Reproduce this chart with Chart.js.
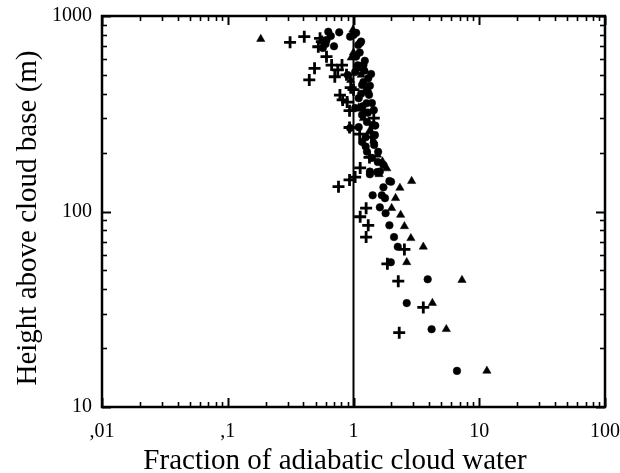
<!DOCTYPE html>
<html>
<head>
<meta charset="utf-8">
<script src="https://cdn.jsdelivr.net/npm/chart.js@4/dist/chart.umd.min.js"></script>
<style>
html,body{margin:0;padding:0;background:#fff;}
#wrap{width:620px;height:473px;position:relative;}
</style>
</head>
<body>
<div id="wrap"><canvas id="c" width="620" height="473"></canvas></div>
<script>
// ---- data ----
const circleX = [0.63,0.77,0.66,0.94,1.0,1.05,1.09,1.15,1.13,0.61,0.57,0.60,0.70,
  1.20,1.23,1.10,1.31,1.03,0.90,1.17,1.30,1.20,1.35,1.40,1.27,1.10,1.03,1.17,1.28,1.42,1.48,1.49,0.94,1.10,1.17,1.28,1.46,1.57,1.40,1.56,1.73,1.54,1.62,1.35,1.35,1.25,1.30,1.15,1.05,1.12,
  1.38,1.22,1.33,1.18,1.45,1.25,1.08,
  1.93,1.73,1.42,1.68,1.78,1.62,1.80,1.93,2.10,2.25,1.98,3.89,2.65,4.18,6.65,1.99];
const circleY = [831,825,790,784,800,820,711,740,728,754,686,720,700,
  561,590,545,480,517,499,444,409,460,440,359,358,380,338,312,287,277,246,275,267,270,227,202,219,202,188,179,173,159,160,160,155,240,320,400,620,650,
  505,525,395,345,330,215,560,
  143,133,121,121,117,105,98,85,74,66,55,45,34,25,15.3,142];

const triangleX = [0.183,0.99,0.96,1.0,1.05,0.95,1.15,1.25,1.10,1.20,1.35,1.45,1.55,1.70,1.84,1.60,
  2.90,2.34,2.16,2.01,2.37,2.54,2.86,3.59,2.65,7.29,4.24,5.47,11.5];
const triangleY = [762,850,612,650,520,470,500,420,340,300,260,230,195,180,166,155,
  143,132,117,104,96,84,73,66,55,44.6,34,25,15.3];

const plusX = [0.313,0.406,0.542,0.525,0.56,0.61,0.49,0.445,0.81,0.67,0.71,0.78,0.82,0.75,0.88,0.95,0.93,0.89,0.93,1.12,1.39,1.40,1.34,1.13,1.03,0.93,0.76,
  1.26,1.13,1.31,1.26,2.54,1.86,2.27,3.59,2.31,1.45,1.20,1.0];
const plusY = [733,784,769,696,740,619,540,471,561,561,489,394,372,530,500,430,328,363,269,249,240,252,189,167,150,145,134,
  104,94,85,74,64,54,44,32.3,24,300,330,420];

const refLineX = [1, 1];
const refLineY = [10, 1000];

const xTickValues = [0.01, 0.1, 1, 10, 100];
const xTickLabels = [',01', ',1', '1', '10', '100'];
const yTickValues = [10, 100, 1000];
const yTickLabels = ['10', '100', '1000'];

const xTitle = 'Fraction of adiabatic cloud water';
const yTitle = 'Height above cloud base (m)';

// ---- build ----
const pts = (xs, ys) => xs.map((v, i) => ({x: v, y: ys[i]}));
const labelFor = (vals, labs) => (v) => {
  for (let i = 0; i < vals.length; i++) {
    if (Math.abs(Math.log10(v) - Math.log10(vals[i])) < 1e-6) return labs[i];
  }
  return '';
};

const FONT = "'Liberation Serif', 'Times New Roman', serif";

const frameTicks = {
  id: 'frameTicks',
  afterDraw(chart) {
    const {ctx, chartArea: a, scales: {x, y}} = chart;
    ctx.save();
    ctx.strokeStyle = '#000';
    ctx.lineCap = 'butt';
    const seg = (x1, y1, x2, y2) => { ctx.beginPath(); ctx.moveTo(x1, y1); ctx.lineTo(x2, y2); ctx.stroke(); };
    const decades = (min, max) => {
      const out = [];
      for (let e = Math.round(Math.log10(min)); e <= Math.round(Math.log10(max)); e++) {
        for (let s = 1; s <= 9; s++) {
          const v = s * Math.pow(10, e);
          if (v >= min * 0.999 && v <= max * 1.001) out.push({v, major: s === 1});
        }
      }
      return out;
    };
    decades(x.min, x.max).forEach(t => {
      const px = Math.round(x.getPixelForValue(t.v)) + 0.5;
      ctx.lineWidth = t.major ? 2 : 1.6;
      const len = t.major ? 9 : 5;
      seg(px, a.bottom, px, a.bottom - len);
      seg(px, a.top, px, a.top + len);
    });
    decades(y.min, y.max).forEach(t => {
      const py = Math.round(y.getPixelForValue(t.v)) + 0.5;
      ctx.lineWidth = t.major ? 2 : 1.6;
      const len = t.major ? 9 : 5;
      seg(a.left, py, a.left + len, py);
      seg(a.right, py, a.right - len, py);
    });
    ctx.lineWidth = 2.5;
    ctx.strokeRect(a.left, a.top, a.right - a.left, a.bottom - a.top);

    // axis titles
    ctx.fillStyle = '#000';
    ctx.font = "29px " + FONT;
    ctx.textAlign = 'center';
    ctx.textBaseline = 'alphabetic';
    ctx.fillText(xTitle, 335, 469);
    ctx.translate(36, 218);
    ctx.rotate(-Math.PI / 2);
    ctx.fillText(yTitle, 0, 0);
    ctx.restore();
  }
};

new Chart(document.getElementById('c'), {
  type: 'scatter',
  data: {
    datasets: [
      {
        label: 'ref',
        type: 'line',
        data: pts(refLineX, refLineY),
        borderColor: '#000',
        borderWidth: 2,
        pointRadius: 0,
        fill: false
      },
      {
        label: 'circles',
        data: pts(circleX, circleY),
        pointStyle: 'circle',
        pointRadius: 3.8,
        backgroundColor: '#000',
        borderColor: '#000',
        borderWidth: 0.5
      },
      {
        label: 'triangles',
        data: pts(triangleX, triangleY),
        pointStyle: 'triangle',
        pointRadius: 4.8,
        backgroundColor: '#000',
        borderColor: '#000',
        borderWidth: 0.5
      },
      {
        label: 'plus',
        data: pts(plusX, plusY),
        pointStyle: 'cross',
        pointRadius: 6,
        backgroundColor: '#000',
        borderColor: '#000',
        borderWidth: 2.8
      }
    ]
  },
  options: {
    responsive: false,
    animation: false,
    devicePixelRatio: 1,
    layout: {padding: {top: 16, right: 15, left: 0, bottom: 0}},
    plugins: {legend: {display: false}, tooltip: {enabled: false}},
    scales: {
      x: {
        type: 'logarithmic',
        min: 0.01,
        max: 100,
        grid: {display: false, drawTicks: false},
        border: {display: false},
        afterFit: s => { s.height = 66; s.paddingLeft = 0; s.paddingRight = 0; },
        ticks: {
          autoSkip: false,
          maxRotation: 0,
          color: '#000',
          padding: 13,
          font: {family: FONT, size: 20},
          callback: labelFor(xTickValues, xTickLabels)
        },
        title: {display: false}
      },
      y: {
        type: 'logarithmic',
        min: 10,
        max: 1000,
        grid: {display: false, drawTicks: false},
        border: {display: false},
        afterFit: s => { s.width = 102; s.paddingTop = 0; s.paddingBottom = 0; },
        ticks: {
          autoSkip: false,
          color: '#000',
          padding: 10,
          font: {family: FONT, size: 20},
          callback: labelFor(yTickValues, yTickLabels)
        },
        title: {display: false}
      }
    }
  },
  plugins: [frameTicks]
});
</script>
</body>
</html>
